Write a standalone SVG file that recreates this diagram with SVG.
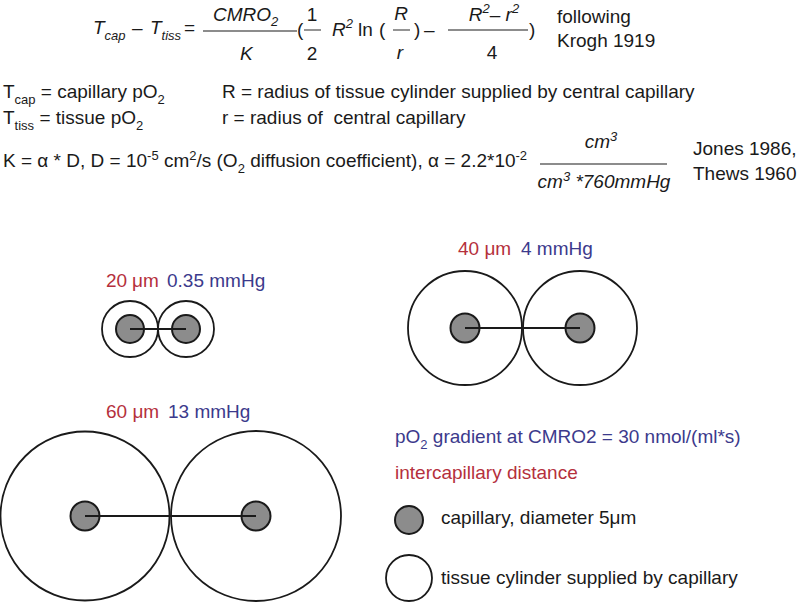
<svg xmlns="http://www.w3.org/2000/svg" width="799" height="602" viewBox="0 0 799 602">
<style>
text { font-family: "Liberation Sans", Arial, Helvetica, sans-serif; font-size: 19px; fill: #1a1a1a; }
.it { font-style: italic; }
.up { font-style: normal; }
.red { fill: #b5303c; }
.blue { fill: #3c3a8c; }
.sub { font-size: 13px; }
.frac { stroke: #666; stroke-width: 1.4; }
.outer { fill: #fff; stroke: #1a1a1a; stroke-width: 1.8; }
.cap { fill: #8c8c8c; stroke: #1a1a1a; stroke-width: 2; }
.link { stroke: #1a1a1a; stroke-width: 2; fill: none; }
</style>
<rect width="799" height="602" fill="#fff"/>

<g id="equation">
  <text class="it" x="93" y="34">T<tspan class="sub" dy="6">cap</tspan></text>
  <text x="132" y="34">–</text>
  <text class="it" x="150" y="34">T<tspan class="sub" dy="6">tiss</tspan></text>
  <text x="184" y="34">=</text>
  <line class="frac" x1="203" y1="31" x2="297" y2="31"/>
  <text class="it" x="213" y="21">CMRO<tspan class="sub" dy="5">2</tspan></text>
  <text class="it" x="240" y="60">K</text>
  <text x="297" y="36">(</text>
  <line class="frac" x1="304" y1="30" x2="321" y2="30"/>
  <text x="312" y="21" text-anchor="middle">1</text>
  <text x="312" y="60" text-anchor="middle">2</text>
  <text class="it" x="332" y="36">R<tspan class="sub" dy="-8">2</tspan></text>
  <text x="358" y="36">ln</text>
  <text x="379" y="36">(</text>
  <line class="frac" x1="393" y1="30" x2="410" y2="30"/>
  <text class="it" x="401" y="20" text-anchor="middle">R</text>
  <text class="it" x="400" y="59" text-anchor="middle">r</text>
  <text x="414" y="36">)</text>
  <text x="424" y="36">–</text>
  <line class="frac" x1="448" y1="30" x2="528" y2="30"/>
  <text class="it" x="494" y="21" text-anchor="middle">R<tspan class="sub" dy="-8">2</tspan><tspan class="up" dy="8">–</tspan> r<tspan class="sub" dy="-8">2</tspan></text>
  <text x="492" y="59" text-anchor="middle">4</text>
  <text x="529" y="36">)</text>
  <text x="557" y="23">following</text>
  <text x="557" y="47">Krogh 1919</text>
</g>

<g id="definitions">
  <text x="3" y="98">T<tspan class="sub" dy="6">cap</tspan><tspan dy="-6"> = capillary pO</tspan><tspan class="sub" dy="6">2</tspan></text>
  <text x="222" y="98">R = radius of tissue cylinder supplied by central capillary</text>
  <text x="3" y="124">T<tspan class="sub" dy="6">tiss</tspan><tspan dy="-6"> = tissue pO</tspan><tspan class="sub" dy="6">2</tspan></text>
  <text x="222" y="124" xml:space="preserve">r = radius of  central capillary</text>
  <text x="3" y="167">K = α * D, D = 10<tspan class="sub" dy="-7">-5</tspan><tspan dy="7"> cm</tspan><tspan class="sub" dy="-7">2</tspan><tspan dy="7">/s (O</tspan><tspan class="sub" dy="6">2</tspan><tspan dy="-6"> diffusion coefficient), α = 2.2*10</tspan><tspan class="sub" dy="-7">-2</tspan></text>
  <line class="frac" x1="540" y1="164" x2="667" y2="164"/>
  <text class="it" x="601" y="148" text-anchor="middle">cm<tspan class="sub" dy="-7">3</tspan></text>
  <text class="it" x="604" y="188" text-anchor="middle">cm<tspan class="sub" dy="-7">3</tspan><tspan dy="7"> *760mmHg</tspan></text>
  <text x="693" y="155">Jones 1986,</text>
  <text x="693" y="180">Thews 1960</text>
</g>

<g id="pair-20um">
  <circle class="outer" cx="130" cy="329" r="28"/>
  <circle class="outer" cx="186" cy="329" r="28"/>
  <circle class="cap" cx="130" cy="329" r="14"/>
  <circle class="cap" cx="186" cy="329" r="14"/>
  <text class="red" x="106" y="287">20<tspan x="132">μm</tspan></text>
  <text class="blue" x="167" y="287">0.35 mmHg</text>
</g>

<g id="pair-40um">
  <circle class="outer" cx="465" cy="328" r="57"/>
  <circle class="outer" cx="580" cy="328" r="57"/>
  <circle class="cap" cx="465" cy="328" r="14.5"/>
  <circle class="cap" cx="580" cy="328" r="14.5"/>
  <text class="red" x="458" y="255">40 μm</text>
  <text class="blue" x="521" y="255">4 mmHg</text>
</g>

<g id="pair-60um">
  <circle class="outer" cx="85" cy="516" r="84.5"/>
  <circle class="outer" cx="256" cy="516" r="85"/>
  <circle class="cap" cx="85" cy="516" r="14.5"/>
  <circle class="cap" cx="256" cy="516" r="14.5"/>
  <text class="red" x="106" y="418">60 μm</text>
  <text class="blue" x="168" y="418">13 mmHg</text>
</g>

<g id="connectors">
  <line class="link" x1="130" y1="329" x2="186" y2="329"/>
  <line class="link" x1="465" y1="328" x2="580" y2="328"/>
  <line class="link" x1="85" y1="516" x2="256" y2="516"/>
</g>

<g id="legend">
  <text class="blue" x="395" y="443">pO<tspan class="sub" dy="6">2</tspan><tspan dy="-6"> gradient at CMRO2 = 30 nmol/(ml*s)</tspan></text>
  <text class="red" x="395" y="479">intercapillary distance</text>
  <g id="legend-capillary">
    <circle class="cap" cx="409" cy="520" r="14"/>
    <text x="441" y="524">capillary, diameter 5μm</text>
  </g>
  <g id="legend-tissue">
    <circle class="outer" cx="409" cy="578" r="23"/>
    <text x="441" y="584">tissue cylinder supplied by capillary</text>
  </g>
</g>
</svg>
